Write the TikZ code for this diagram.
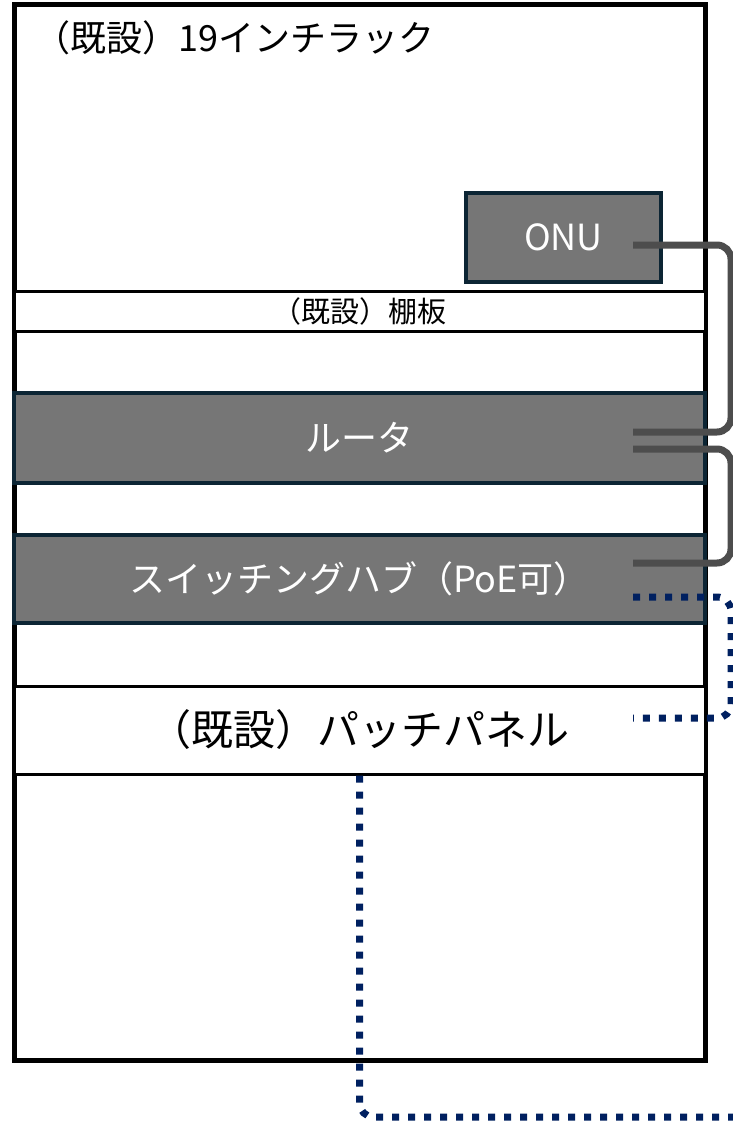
\documentclass[tikz,border=0pt]{standalone}
\usepackage{fontspec}
\setmainfont{Noto Sans CJK JP}
\definecolor{devgray}{RGB}{118,118,118}
\definecolor{devline}{RGB}{12,37,52}
\definecolor{cablegray}{RGB}{77,77,77}
\definecolor{lannavy}{RGB}{0,32,96}

\begin{document}
\begin{tikzpicture}[x=1pt,y=-1pt,
    shelfbox/.style={draw=black,line width=3pt,fill=white,minimum width=691pt,inner sep=0pt},
    devbox/.style={draw=devline,line width=3.5pt,fill=devgray,text=white,inner sep=0pt,
      font=\fontsize{36}{40}\selectfont},
    cable/.style={draw=cablegray,line width=7pt,rounded corners=14pt},
    lan/.style={draw=lannavy,line width=7pt,dash pattern=on 7pt off 9pt,rounded corners=14pt}]
    \useasboundingbox (0,0) rectangle (733,1121);

    % ラック本体
    \node[draw=black,line width=5pt,minimum width=691pt,minimum height=1055pt,inner sep=0pt] (rack) at (359.5,532.5) {};
    \node[anchor=west,inner sep=0pt,font=\fontsize{36}{40}\selectfont] (racktitle) at (34,38) {（既設）19インチラック};

\node[shelfbox,minimum height=40pt,font=\fontsize{29}{32}\selectfont] (shelf) at (359.5,311) {（既設）棚板};
\node[devbox,minimum width=691pt,minimum height=90pt] (router) at (359.5,438) {ルータ};
\node[devbox,minimum width=691pt,minimum height=88pt] (switch) at (359.5,579) {スイッチングハブ（PoE可）};
\node[shelfbox,minimum height=88pt,font=\fontsize{42}{46}\selectfont] (patch) at (359.5,730) {（既設）パッチパネル};
\node[devbox,minimum width=195pt,minimum height=89pt] (onu) at (563.5,237.5) {ONU};

    % ケーブル
    \coordinate (onu-p) at (633,245);
    \coordinate (router-p1) at (633,432);
    \coordinate (router-p2) at (633,449);
    \coordinate (switch-p1) at (633,563);
    \coordinate (switch-p2) at (633,597);
    \coordinate (patch-p) at (633,718);
    \coordinate (floor) at (745,1117);
\draw[cable] (onu-p) -| (731,340) |- (router-p1);
\draw[cable] (router-p2) -| (731,500) |- (switch-p1);
\draw[lan] (switch-p2) -| (731,650) |- (patch-p);
\draw[lan] (patch.south) |- (floor);

      \end{tikzpicture}
\end{document}
